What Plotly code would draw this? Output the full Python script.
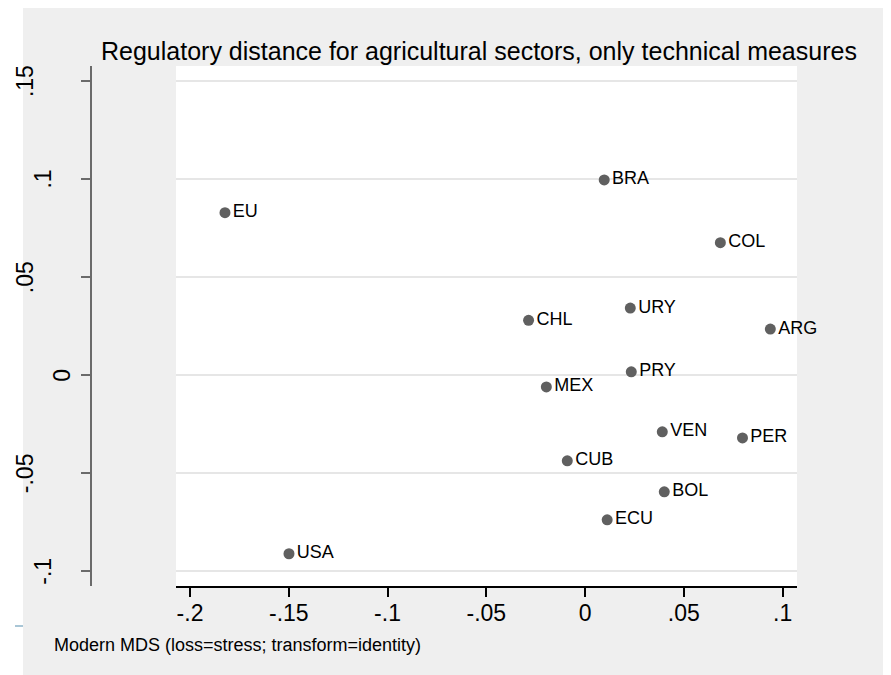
import plotly.graph_objects as go

# ---- data ----
countries = ["EU", "BRA", "COL", "URY", "CHL", "ARG", "PRY", "MEX",
             "VEN", "PER", "CUB", "BOL", "ECU", "USA"]
dim1 = [-0.1823, 0.0097, 0.0685, 0.0229, -0.0286, 0.0938, 0.0234, -0.0196,
        0.0391, 0.0797, -0.0090, 0.0401, 0.0112, -0.1499]
dim2 = [0.0829, 0.0996, 0.0676, 0.0342, 0.0280, 0.0235, 0.0017, -0.0060,
        -0.0289, -0.0320, -0.0437, -0.0595, -0.0738, -0.0911]

xtick_vals = [-0.2, -0.15, -0.1, -0.05, 0, 0.05, 0.1]
xtick_text = ["-.2", "-.15", "-.1", "-.05", "0", ".05", ".1"]
ytick_vals = [-0.1, -0.05, 0, 0.05, 0.1, 0.15]
ytick_text = ["-.1", "-.05", "0", ".05", ".1", ".15"]

title_text = "Regulatory distance for agricultural sectors, only technical measures"
note_text = "Modern MDS (loss=stress; transform=identity)"

# ---- layout geometry (pixels in the page; the page body adds an 8px margin) ----
W, H = 891, 675
OFF = 8


def fx(px):
    return (px - OFF) / W


def fy(py):
    return 1 - (py - OFF) / H


PL, PR, PT, PB = 176, 797, 66, 586.3
YAXIS_X = 91
# page x-centres of the rotated y tick labels, in ytick order
ylab_x_px = [43.5, 25, 62.5, 25, 43.5, 25]

FONT = "Liberation Sans, Arial, Helvetica, sans-serif"

fig = go.Figure()
fig.add_trace(go.Scatter(
    x=dim1, y=dim2, mode="markers+text", text=countries,
    textposition="middle right",
    textfont=dict(family=FONT, size=18, color="#000000"),
    marker=dict(size=11, color="#606060"),
    cliponaxis=False, showlegend=False, hoverinfo="text",
))

annotations = []
for v, t, xp in zip(ytick_vals, ytick_text, ylab_x_px):
    annotations.append(dict(
        x=fx(xp), xref="paper", y=v, yref="y", text=t, showarrow=False,
        textangle=-90, xanchor="center", yanchor="middle",
        font=dict(family=FONT, size=23, color="#000000"),
    ))
annotations.append(dict(
    x=fx(52), xref="paper", y=fy(645), yref="paper", text=note_text,
    showarrow=False, xanchor="left", yanchor="middle",
    font=dict(family=FONT, size=18, color="#000000"),
))
annotations.append(dict(
    x=fx(478.5), xref="paper", y=fy(51), yref="paper", text=title_text,
    showarrow=False, xanchor="center", yanchor="middle",
    font=dict(family=FONT, size=25, color="#000000"),
))

shapes = [
    dict(type="rect", xref="paper", yref="paper", x0=-0.01, x1=fx(23), y0=-0.01, y1=1.01,
         fillcolor="#FFFFFF", line=dict(width=0), layer="below"),
    dict(type="line", xref="paper", yref="paper", x0=fx(15), x1=fx(23),
         y0=fy(626), y1=fy(626), line=dict(color="#A9C6D6", width=2)),
]

fig.update_layout(
    width=W, height=H, autosize=False,
    margin=dict(l=0, r=0, t=0, b=0, pad=0),
    paper_bgcolor="#EFEFEF", plot_bgcolor="#FFFFFF",
    font=dict(family=FONT, color="#000000"),
    showlegend=False,
    annotations=annotations, shapes=shapes,
    xaxis=dict(
        domain=[fx(PL), fx(PR)],
        range=[-0.2071, 0.1073],
        tickvals=xtick_vals, ticktext=xtick_text,
        ticks="outside", ticklen=9, tickwidth=1.5, tickcolor="#000000",
        tickfont=dict(family=FONT, size=23, color="#000000"),
        ticklabelstandoff=-4,
        showline=True, linecolor="#000000", linewidth=1.5,
        showgrid=False, zeroline=False,
    ),
    yaxis=dict(
        domain=[fy(PB), fy(PT)],
        range=[-0.1077, 0.1577],
        anchor="free", position=fx(YAXIS_X),
        tickvals=ytick_vals, showticklabels=False,
        ticks="outside", ticklen=9, tickwidth=1.5, tickcolor="#6A6A6A",
        showline=True, linecolor="#6A6A6A", linewidth=2,
        showgrid=True, gridcolor="#E6E6E6", gridwidth=1.5,
        zeroline=False,
    ),
)

fig.write_html("out.html")
